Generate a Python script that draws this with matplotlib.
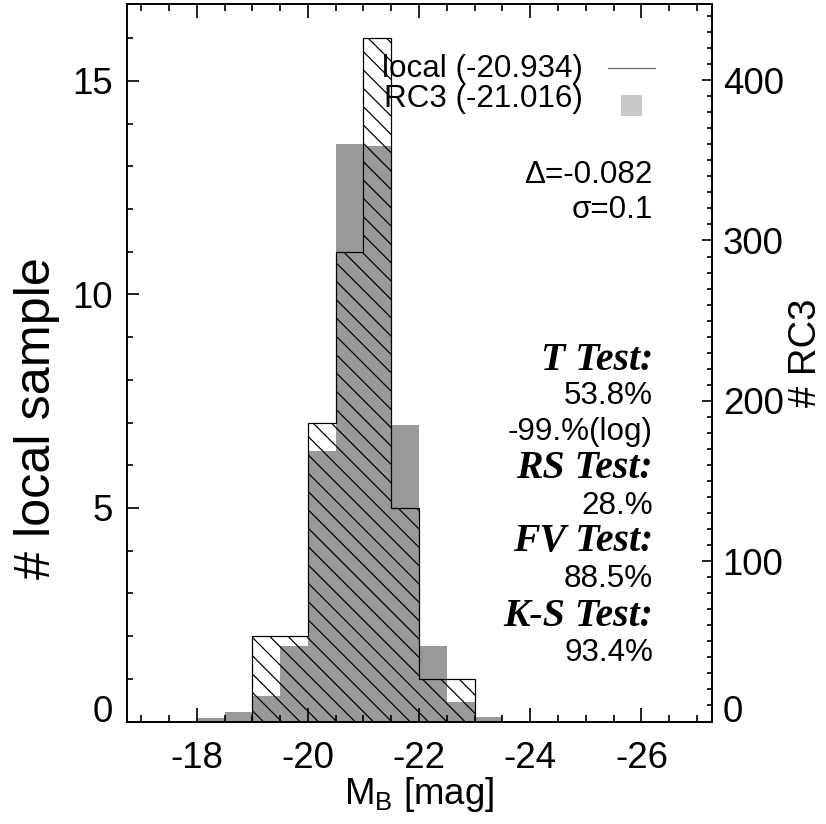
import matplotlib
matplotlib.use('Agg')
import matplotlib.pyplot as plt
import matplotlib.transforms as mtransforms
from matplotlib.ticker import MultipleLocator, FixedLocator
from matplotlib.patches import Rectangle

plt.rcParams['font.family'] = ['Liberation Sans', 'DejaVu Sans']
plt.rcParams['axes.unicode_minus'] = False
plt.rcParams['mathtext.fontset'] = 'custom'
plt.rcParams['mathtext.rm'] = 'Liberation Sans'
plt.rcParams['hatch.linewidth'] = 0.8

SANS = ['Liberation Sans', 'DejaVu Sans']
NFS = 20.5

# ---- data ----
local_edges = [-23.0, -22.5, -22.0, -21.5, -21.0, -20.5, -20.0, -19.5, -19.0]
local_counts = [1, 1, 5, 16, 11, 7, 2, 2]
rc3_edges = [-23.5, -23.0, -22.5, -22.0, -21.5, -21.0, -20.5, -20.0, -19.5, -19.0, -18.5, -18.0]
rc3_counts = [3, 12, 47, 185, 359, 360, 169, 47, 16, 6, 2]
legend_labels = ['local (-20.934)', 'RC3 (-21.016)']
x_ticks = [-18, -20, -22, -24, -26]
left_ticks = [0, 5, 10, 15]
right_ticks = [0, 100, 200, 300, 400]
stats_lines = [('Δ=-0.082', 'sans'), ('σ=0.1', 'sans'),
               ('T Test:', 'serif'), ('53.8%', 'sans'), ('-99.%(log)', 'sans'),
               ('RS Test:', 'serif'), ('28.%', 'sans'),
               ('FV Test:', 'serif'), ('88.5%', 'sans'),
               ('K-S Test:', 'serif'), ('93.4%', 'sans')]

W, H = 826, 824
DPI = 110
fig = plt.figure(figsize=(W / DPI, H / DPI), dpi=DPI)

ax_l, ax_r, ax_t, ax_b = 126.7, 712.0, 4.0, 721.5
ax = fig.add_axes([ax_l / W, 1 - ax_b / H, (ax_r - ax_l) / W, (ax_b - ax_t) / H])
ax2 = ax.twinx()
ax.set_zorder(2)
ax2.set_zorder(1)
ax.patch.set_visible(False)

def axx(px):
    return (px - ax_l) / (ax_r - ax_l)

def axy(py):
    return (ax_b - py) / (ax_b - ax_t)

# RC3 histogram (right axis)
ax2.stairs(rc3_counts, rc3_edges, fill=True, facecolor='#999999', edgecolor='none')
# local histogram (left axis)
ax.stairs(local_counts, local_edges, fill=True, facecolor='none', edgecolor='black',
          hatch='\\\\', linewidth=0.8)

ax.set_xlim(-16.74, -27.27)
ax.set_ylim(0, 16.8)
ax2.set_ylim(0, 447.5)

for sp in list(ax.spines.values()) + list(ax2.spines.values()):
    sp.set_linewidth(1.1)

TICKFS = 24
ax.xaxis.set_major_locator(FixedLocator(x_ticks))
ax.xaxis.set_minor_locator(MultipleLocator(0.5))
ax.yaxis.set_major_locator(FixedLocator(left_ticks))
ax.yaxis.set_minor_locator(MultipleLocator(1))
ax2.yaxis.set_major_locator(FixedLocator(right_ticks))
ax2.yaxis.set_minor_locator(MultipleLocator(10))

ax.tick_params(axis='x', which='both', direction='in', top=True, bottom=True, width=1.1,
               labelsize=TICKFS, pad=13)
ax.tick_params(axis='x', which='major', length=9.2)
ax.tick_params(axis='x', which='minor', length=4.6)
ax.tick_params(axis='y', which='both', direction='in', left=True, right=False, width=1.1,
               labelsize=TICKFS, pad=9)
ax.tick_params(axis='y', which='major', length=7.9)
ax.tick_params(axis='y', which='minor', length=4.0)
ax2.tick_params(axis='y', which='both', direction='in', right=True, left=False, width=1.1,
                labelsize=TICKFS, pad=7)
ax2.tick_params(axis='y', which='major', length=6.5)
ax2.tick_params(axis='y', which='minor', length=3.3)

# axis titles
fig.text(419 / W, 1 - 795 / H, r'M$_\mathrm{B}$ [mag]', ha='center', va='center', fontsize=24)
fig.text(37 / W, 1 - 418 / H, '# local sample', ha='center', va='center', rotation=90, fontsize=33)
fig.text(806 / W, 1 - 353 / H, '# RC3', ha='center', va='center', rotation=90, fontsize=25)

# legend
ax.text(axx(583), axy(69), legend_labels[0], ha='right', va='center', fontsize=NFS,
        family=SANS, transform=ax.transAxes)
ax.text(axx(583), axy(99), legend_labels[1], ha='right', va='center', fontsize=NFS,
        family=SANS, transform=ax.transAxes)
ax.plot([axx(608), axx(655)], [axy(68), axy(68)], color='#666666', lw=0.8, transform=ax.transAxes)
ax.add_patch(Rectangle((axx(621), axy(116)), axx(642) - axx(621), axy(95) - axy(116),
                       facecolor='#c8c8c8', edgecolor='none', transform=ax.transAxes))

# statistics text
ys = [175, 210, 360, 396, 432, 468, 506, 542, 579, 617, 653]
for (s, kind), y in zip(stats_lines, ys):
    if kind == 'serif':
        ax.text(axx(653), axy(y), s, ha='right', va='center', fontsize=26,
                family=['Liberation Serif', 'DejaVu Serif'], weight='bold', style='italic',
                transform=ax.transAxes)
    else:
        ax.text(axx(653), axy(y), s, ha='right', va='center', fontsize=NFS,
                family=SANS, transform=ax.transAxes)

# IDL-like shift of the "0" labels
shift = mtransforms.ScaledTranslation(0, 13 / DPI, fig.dpi_scale_trans)
t0 = ax.yaxis.get_major_ticks()[0]
t0.label1.set_transform(t0.label1.get_transform() + shift)
t1 = ax2.yaxis.get_major_ticks()[0]
t1.label2.set_transform(t1.label2.get_transform() + shift)

fig.savefig('out.png', dpi=DPI, facecolor='white')
